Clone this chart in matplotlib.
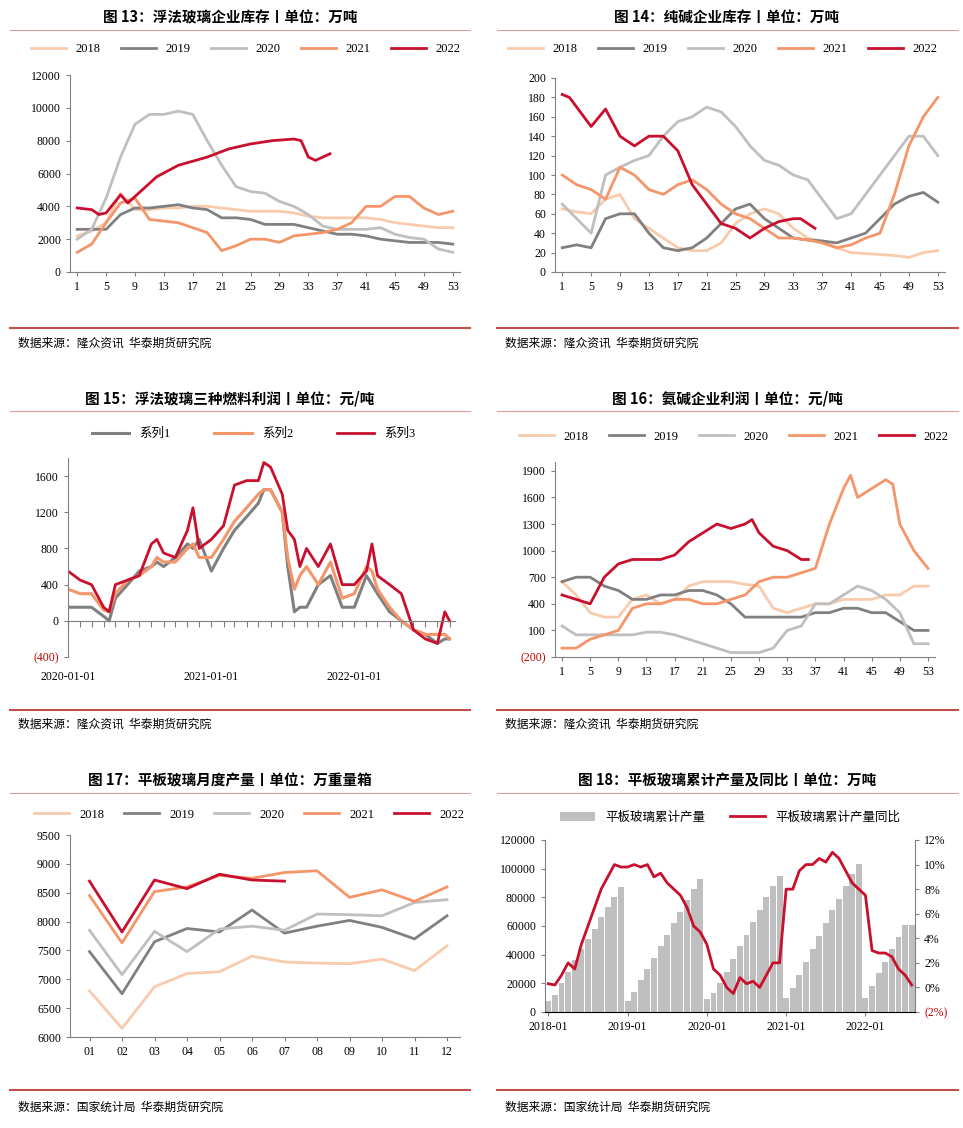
import matplotlib
matplotlib.use("Agg")
import matplotlib.pyplot as plt
import matplotlib.dates as mdates
from matplotlib.lines import Line2D
import numpy as np
import pandas as pd

plt.rcParams['font.family'] = ['Liberation Serif', 'Noto Sans CJK SC']
plt.rcParams['axes.unicode_minus'] = False

C18, C19, C20, C21, C22 = '#f8cbad', '#808080', '#bfbfbf', '#f4956a', '#c8102e'
years = ['2018', '2019', '2020', '2021', '2022']
cols = [C18, C19, C20, C21, C22]

# ---------- Panel 13 data ----------
wk = [1,3,5,7,9,11,13,15,17,19,21,23,25,27,29,31,33,35,37,39,41,43,45,47,49,51,53]
p13_2018 = [2200,2500,3000,4800,3800,3800,3900,3900,4000,4000,3900,3800,3700,3700,3700,3600,3400,3300,3300,3300,3300,3200,3000,2900,2800,2700,2700]
p13_2019 = [2600,2600,2600,3500,3900,3900,4000,4100,3900,3800,3300,3300,3200,2900,2900,2900,2700,2500,2300,2300,2200,2000,1900,1800,1800,1800,1700]
p13_2020 = [2000,2600,4500,7000,9000,9600,9600,9800,9600,8000,6500,5200,4900,4800,4300,4000,3500,2800,2600,2600,2600,2700,2300,2100,2000,1400,1200]
p13_2021 = [1200,1700,3000,4200,4500,3200,3100,3000,2700,2400,1300,1600,2000,2000,1800,2200,2300,2400,2600,3000,4000,4000,4600,4600,3900,3500,3700]
wk22 = [1,3,4,5,7,8,10,12,15,19,22,25,28,31,32,33,34,36]
p13_2022 = [3900,3800,3500,3600,4700,4200,5000,5800,6500,7000,7500,7800,8000,8100,8000,7000,6800,7200]

# ---------- Panel 14 data ----------
p14_2018 = [65,62,60,75,80,55,45,35,25,22,22,30,50,60,65,60,45,35,32,25,20,19,18,17,15,20,22]
p14_2019 = [25,28,25,55,60,60,40,25,22,25,35,50,65,70,55,45,35,33,32,30,35,40,55,70,78,82,72]
p14_2020 = [70,55,40,100,108,115,120,140,155,160,170,165,150,130,115,110,100,95,75,55,60,80,100,120,140,140,120]
p14_2021 = [100,90,85,75,108,100,85,80,90,95,85,70,60,55,45,35,35,33,30,25,28,35,40,80,130,160,180]
wk22b = [1,2,5,7,9,11,13,15,17,19,21,23,25,27,29,31,33,34,36]
p14_2022 = [183,180,150,168,140,130,140,140,125,90,70,50,45,35,45,52,55,55,45]

# ---------- Panel 15 data ----------
d15 = ['2020-01-01','2020-02-01','2020-03-01','2020-04-01','2020-04-15','2020-05-01','2020-06-01','2020-07-01',
       '2020-08-01','2020-08-15','2020-09-01','2020-10-01','2020-11-01','2020-11-15','2020-12-01',
       '2021-01-01','2021-02-01','2021-03-01','2021-04-01','2021-05-01','2021-05-15','2021-06-01','2021-07-01',
       '2021-07-15','2021-08-01','2021-08-15','2021-09-01','2021-10-01','2021-11-01','2021-12-01',
       '2022-01-01','2022-02-01','2022-02-15','2022-03-01','2022-04-01','2022-05-01','2022-06-01','2022-07-01',
       '2022-08-01','2022-08-20','2022-09-01']
s3 = [550,450,400,150,100,400,450,500,850,900,750,700,1000,1250,800,900,1050,1500,1550,1550,1750,1700,1400,1000,
      900,600,800,600,850,400,400,550,850,500,400,300,-100,-200,-250,100,0]
s1 = [150,150,150,50,0,250,400,550,600,650,600,700,850,800,900,550,800,1000,1150,1300,1450,1450,1200,600,
      100,150,150,400,500,150,150,500,400,300,100,0,-100,-150,-250,-200,-200]
s2 = [350,300,300,120,100,300,450,500,600,700,650,650,800,850,700,700,900,1100,1250,1400,1450,1450,1200,700,
      350,500,600,400,650,250,300,600,550,350,150,0,-100,-150,-150,-150,-200]

# ---------- Panel 16 data ----------
p16_2018 = [650,500,300,250,250,450,500,400,450,600,650,650,650,620,600,350,300,350,400,400,450,450,450,500,500,600,600]
p16_2019 = [650,700,700,600,550,450,450,500,500,550,550,500,400,250,250,250,250,250,300,300,350,350,300,300,200,100,100]
p16_2020 = [150,50,50,50,50,50,80,80,50,0,-50,-100,-150,-150,-150,-100,100,150,400,400,500,600,550,450,300,-50,-50]
wk21c = [1,3,5,7,9,11,13,15,17,19,21,23,25,27,29,31,33,35,37,39,41,42,43,45,47,48,49,51,53]
p16_2021 = [-100,-100,0,50,100,350,400,400,450,450,400,400,450,500,650,700,700,750,800,1300,1700,1850,1600,1700,1800,1750,1300,1000,800]
wk22c = [1,3,5,7,9,11,13,15,17,19,21,23,25,27,28,29,31,33,35,36]
p16_2022 = [500,450,400,700,850,900,900,900,950,1100,1200,1300,1250,1300,1350,1200,1050,1000,900,900]

# ---------- Panel 17 data ----------
months = ['01','02','03','04','05','06','07','08','09','10','11','12']
p17_2018 = [6800,6150,6870,7100,7130,7400,7300,7280,7270,7350,7150,7580]
p17_2019 = [7480,6750,7650,7880,7820,8200,7800,7920,8020,7900,7700,8100]
p17_2020 = [7850,7080,7830,7480,7870,7920,7850,8130,8120,8100,8330,8380]
p17_2021 = [8450,7630,8520,8600,8800,8750,8850,8880,8420,8550,8350,8600]
p17_2022 = [8700,7820,8720,8570,8820,8720,8700]

# ---------- Panel 18 data ----------
cum = [8000,12000,20000,28000,36000,44000,51000,58000,66000,73000,80000,87000,
       8000,14000,22000,30000,38000,46000,54000,62000,70000,78000,86000,93000,
       9000,13000,20000,28000,37000,46000,54000,63000,71000,80000,88000,95000,
       9500,17000,26000,35000,44000,53000,62000,71000,79000,88000,96000,103000,
       10000,18000,27000,35000,44000,52000,61000,61000]
yoy = [0.3,0.2,1,2,1.5,3.5,5,6.5,8,9,10,9.8,
       9.8,10,9.8,10,9,9.3,8.5,8,7.5,6.5,5,4.5,
       3.5,1.5,1,0,-0.5,0.8,0.3,0.5,0,1,2,2,
       8,8,9.5,10,10,10.5,10.2,11,10.5,9.5,8.5,8,
       7.5,3,2.8,2.8,2.5,1.5,1,0.2]
cum = cum[:len(yoy)]
xlab18 = ['2018-01','2019-01','2020-01','2021-01','2022-01']

W, H = 963, 1128
fig = plt.figure(figsize=(W/100, H/100), dpi=100)

def ax_at(x0, y0, x1, y1):
    return fig.add_axes([x0/W, 1-y1/H, (x1-x0)/W, (y1-y0)/H])

def decor(xc, x0, x1, ytitle, yline, ysrc, title, src):
    fig.text(xc/W, 1-ytitle/H, title, ha='center', va='center', fontsize=10.5,
             fontweight='bold', family=['Noto Sans CJK SC'])
    fig.add_artist(Line2D([x0/W, x1/W], [1-(ytitle+13)/H]*2, color='#d9a0a0', lw=0.8))
    fig.add_artist(Line2D([x0/W, x1/W], [1-yline/H]*2, color='#c0504d', lw=1.5))
    fig.text((x0+8)/W, 1-ysrc/H, src, ha='left', va='center', fontsize=8.5,
             family=['Noto Sans CJK SC'])

def style(ax):
    for s in ['top', 'right']:
        ax.spines[s].set_visible(False)
    for s in ['left', 'bottom']:
        ax.spines[s].set_color('#808080')
    ax.tick_params(labelsize=8.5, length=3, color='#808080')

src1 = '数据来源：隆众资讯  华泰期货研究院'
src2 = '数据来源：国家统计局  华泰期货研究院'
decor(230, 10, 470, 17, 328, 343, '图 13：浮法玻璃企业库存丨单位：万吨', src1)
decor(727, 497, 958, 17, 328, 343, '图 14：纯碱企业库存丨单位：万吨', src1)
decor(230, 10, 470, 398, 710, 724, '图 15：浮法玻璃三种燃料利润丨单位：元/吨', src1)
decor(727, 497, 958, 398, 710, 724, '图 16：氨碱企业利润丨单位：元/吨', src1)
decor(230, 10, 470, 780, 1090, 1107, '图 17：平板玻璃月度产量丨单位：万重量箱', src2)
decor(727, 497, 958, 780, 1090, 1107, '图 18：平板玻璃累计产量及同比丨单位：万吨', src2)

# Panel 13
ax = ax_at(70, 75, 460, 272)
for d, c in zip([p13_2018, p13_2019, p13_2020, p13_2021], cols[:4]):
    ax.plot(wk, d, color=c, lw=2)
ax.plot(wk22, p13_2022, color=C22, lw=2)
ax.set_xlim(0, 54); ax.set_ylim(0, 12000)
ax.set_xticks(range(1, 54, 4)); ax.set_yticks(range(0, 12001, 2000))
style(ax)
ax.legend(years, loc='center', bbox_to_anchor=(0.45, 1.13), ncol=5, frameon=False, fontsize=9,
          handlelength=2.8, columnspacing=1.6)

# Panel 14
ax = ax_at(555, 78, 945, 272)
for d, c in zip([p14_2018, p14_2019, p14_2020, p14_2021], cols[:4]):
    ax.plot(wk, d, color=c, lw=2)
ax.plot(wk22b, p14_2022, color=C22, lw=2)
ax.set_xlim(0, 54); ax.set_ylim(0, 200)
ax.set_xticks(range(1, 54, 4)); ax.set_yticks(range(0, 201, 20))
style(ax)
ax.legend(years, loc='center', bbox_to_anchor=(0.43, 1.15), ncol=5, frameon=False, fontsize=9,
          handlelength=2.8, columnspacing=1.6)

# Panel 15
ax = ax_at(68, 458, 455, 657)
dd = pd.to_datetime(d15)
ax.plot(dd, s1, color='#808080', lw=2.2, label='系列1')
ax.plot(dd, s2, color=C21, lw=2.2, label='系列2')
ax.plot(dd, s3, color=C22, lw=2, label='系列3')
ax.set_ylim(-400, 1800)
ax.set_xlim(pd.Timestamp('2020-01-01'), pd.Timestamp('2022-09-15'))
ax.set_yticks(range(-400, 1601, 400))
ax.set_yticklabels(['(400)'] + [str(v) for v in range(0, 1601, 400)])
ax.get_yticklabels()[0].set_color('#c00000')
style(ax)
ax.spines['bottom'].set_position(('data', 0))
ax.xaxis.set_major_locator(mdates.MonthLocator())
ax.tick_params(axis='x', labelbottom=False, length=4, direction='out')
for lab in ['2020-01-01', '2021-01-01', '2022-01-01']:
    ax.text(pd.Timestamp(lab), -0.07, lab, transform=ax.get_xaxis_transform(), ha='center',
            va='top', fontsize=8.5)
ax.legend(loc='center', bbox_to_anchor=(0.48, 1.12), ncol=3, frameon=False, fontsize=9,
          handlelength=3, columnspacing=3.5)

# Panel 16
ax = ax_at(555, 462, 935, 657)
for d, c in zip([p16_2018, p16_2019, p16_2020], cols[:3]):
    ax.plot(wk, d, color=c, lw=2)
ax.plot(wk21c, p16_2021, color=C21, lw=2)
ax.plot(wk22c, p16_2022, color=C22, lw=2)
ax.set_xlim(0, 54); ax.set_ylim(-200, 2000)
ax.set_xticks(range(1, 54, 4))
ax.set_yticks(range(-200, 1901, 300))
ax.set_yticklabels(['(200)'] + [str(v) for v in range(100, 1901, 300)])
ax.get_yticklabels()[0].set_color('#c00000')
style(ax)
ax.legend(years, loc='center', bbox_to_anchor=(0.47, 1.13), ncol=5, frameon=False, fontsize=9,
          handlelength=2.8, columnspacing=1.6)

# Panel 17
ax = ax_at(70, 835, 460, 1037)
xm = np.arange(len(months))
for d, c in zip([p17_2018, p17_2019, p17_2020, p17_2021], cols[:4]):
    ax.plot(xm, d, color=c, lw=2)
ax.plot(xm[:len(p17_2022)], p17_2022, color=C22, lw=2)
ax.set_xlim(-0.6, 11.4); ax.set_ylim(6000, 9500)
ax.set_xticks(xm); ax.set_xticklabels(months)
ax.set_yticks(range(6000, 9501, 500))
style(ax)
ax.legend(years, loc='center', bbox_to_anchor=(0.46, 1.1), ncol=5, frameon=False, fontsize=9,
          handlelength=2.8, columnspacing=1.6)

# Panel 18
ax = ax_at(545, 840, 915, 1012)
xi = np.arange(len(cum))
b = ax.bar(xi, cum, width=0.9, color='#bfbfbf', label='平板玻璃累计产量')
ax.set_ylim(0, 120000); ax.set_xlim(-0.5, len(cum) - 0.5)
ax.set_yticks(range(0, 120001, 20000))
ax.set_xticks([0, 12, 24, 36, 48]); ax.set_xticklabels(xlab18)
style(ax)
ax2 = ax.twinx()
l, = ax2.plot(xi, yoy, color=C22, lw=2, label='平板玻璃累计产量同比')
ax2.set_ylim(-2, 12)
ax2.set_yticks(range(-2, 13, 2))
ax2.set_yticklabels(['(2%)'] + [f'{v}%' for v in range(0, 13, 2)])
ax2.get_yticklabels()[0].set_color('#c00000')
for s in ['top', 'left']:
    ax2.spines[s].set_visible(False)
ax2.spines['right'].set_color('#808080')
ax2.tick_params(labelsize=8.5, length=3, color='#808080')
ax.legend([b, l], ['平板玻璃累计产量', '平板玻璃累计产量同比'], loc='center', bbox_to_anchor=(0.5, 1.13),
          ncol=2, frameon=False, fontsize=9, handlelength=2.8, columnspacing=2)

fig.savefig('out.png', dpi=100)
